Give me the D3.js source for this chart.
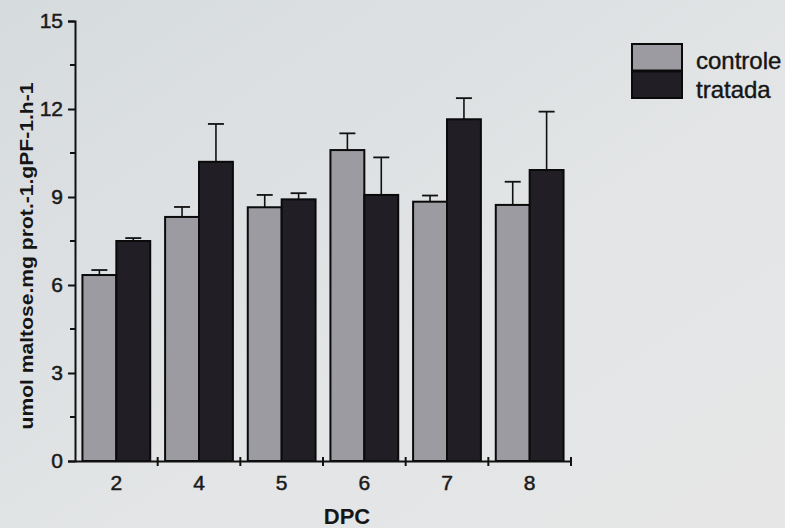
<!DOCTYPE html>
<html><head><meta charset="utf-8">
<script src="https://cdn.jsdelivr.net/npm/d3@7"></script>
<style>
html,body{margin:0;padding:0;background:#dfe2e4;}
svg{display:block;}
text{font-family:"Liberation Sans",Arial,sans-serif;}
</style></head>
<body>
<svg id="chart" width="785" height="528"></svg>
<script>
const categories = ["2","4","5","6","7","8"];
const seriesNames = ["controle","tratada"];
const controle = [6.34, 8.32, 8.65, 10.6, 8.84, 8.73];
const controleErr = [0.17, 0.34, 0.42, 0.57, 0.21, 0.79];
const tratada = [7.5, 10.2, 8.92, 9.07, 11.65, 9.92];
const tratadaErr = [0.1, 1.29, 0.21, 1.28, 0.72, 1.99];
const yTicks = [0,3,6,9,12,15];
const yMinor = [1.5,4.5,7.5,10.5,13.5];
const colors = {controle:"#9b9ba1", tratada:"#211f25"};

const svg = d3.select("#chart");
const defs = svg.append("defs");
const bg = defs.append("linearGradient").attr("id","bg").attr("x1","0").attr("y1","0").attr("x2","1").attr("y2","1");
bg.append("stop").attr("offset","0").attr("stop-color","#d6dbde");
bg.append("stop").attr("offset","0.6").attr("stop-color","#e3e5e6");
bg.append("stop").attr("offset","1").attr("stop-color","#e6e6e6");
svg.append("rect").attr("width",785).attr("height",528).attr("fill","url(#bg)");

const x0 = 75, x1 = 571, yTop = 21, yBot = 461;
const x = d3.scaleBand().domain(categories).range([x0,x1]).paddingInner(0.18).paddingOuter(0.09);
const xs = d3.scaleBand().domain(seriesNames).range([0,x.bandwidth()]);
const y = d3.scaleLinear().domain([0,15]).range([yBot,yTop]);

const data = categories.map((c,i)=>({cat:c, vals:[
  {s:"controle", v:controle[i], e:controleErr[i]},
  {s:"tratada", v:tratada[i], e:tratadaErr[i]}]}));

const g = svg.append("g");
const grp = g.selectAll("g.grp").data(data).join("g").attr("class","grp")
  .attr("transform",d=>`translate(${x(d.cat)},0)`);
grp.selectAll("g.err").data(d=>d.vals).join("g").attr("class","err").each(function(d){
  const cx = xs(d.s)+xs.bandwidth()/2;
  const sel = d3.select(this);
  sel.append("line").attr("x1",cx).attr("x2",cx).attr("y1",y(d.v)).attr("y2",y(d.v+d.e))
    .attr("stroke","#111").attr("stroke-width",1.6);
  sel.append("line").attr("x1",cx-8).attr("x2",cx+8).attr("y1",y(d.v+d.e)).attr("y2",y(d.v+d.e))
    .attr("stroke","#111").attr("stroke-width",1.8);
});
grp.selectAll("rect").data(d=>d.vals).join("rect")
  .attr("x",d=>xs(d.s)).attr("width",xs.bandwidth())
  .attr("y",d=>y(d.v)).attr("height",d=>y(0)-y(d.v))
  .attr("fill",d=>colors[d.s]).attr("stroke","#0a0a0a").attr("stroke-width",2);

// y axis
const yAxis = d3.axisLeft(y).tickValues(yTicks).tickSize(7).tickPadding(5).tickFormat(d3.format("d"));
const ya = svg.append("g").attr("transform",`translate(${x0},0)`).call(yAxis);
ya.select(".domain").attr("stroke","#111").attr("stroke-width",2);
ya.selectAll(".tick line").attr("stroke","#111").attr("stroke-width",2);
ya.selectAll(".tick text").attr("font-size",21).attr("fill","#1a1a1a")
  .attr("stroke","#1a1a1a").attr("stroke-width",0.5);
ya.selectAll("line.minor").data(yMinor).join("line").attr("class","minor")
  .attr("x1",-5).attr("x2",0).attr("y1",d=>y(d)).attr("y2",d=>y(d)).attr("stroke","#111").attr("stroke-width",2);

// x axis
const xAxis = d3.axisBottom(x).tickSize(0).tickPadding(14);
const xa = svg.append("g").attr("transform",`translate(0,${yBot})`).call(xAxis);
xa.select(".domain").attr("stroke","#111").attr("stroke-width",2);
xa.selectAll(".tick text").attr("font-size",21).attr("fill","#1a1a1a")
  .attr("stroke","#1a1a1a").attr("stroke-width",0.5);
const bounds = categories.map(c=>x(c)-x.step()*x.paddingInner()/2).slice(1).concat([x1]);
xa.selectAll("line.sep").data(bounds).join("line").attr("class","sep")
  .attr("x1",d=>d).attr("x2",d=>d).attr("y1",-4).attr("y2",5).attr("stroke","#111").attr("stroke-width",2);

// axis titles
svg.append("text").attr("x",(x0+x1)/2 + 24).attr("y",524).attr("text-anchor","middle")
  .attr("font-size",22).attr("font-weight","bold").attr("fill","#151515").text("DPC");
svg.append("text").attr("transform","translate(33,256) rotate(-90)").attr("text-anchor","middle")
  .attr("font-size",19).attr("font-weight","bold").attr("fill","#151515")
  .attr("textLength",347).attr("lengthAdjust","spacingAndGlyphs")
  .text("umol maltose.mg prot.-1.gPF-1.h-1");

// legend
const leg = svg.append("g").attr("transform","translate(632,44)");
seriesNames.forEach((s,i)=>{
  leg.append("rect").attr("x",0).attr("y",i*27.5).attr("width",50).attr("height",26.5)
    .attr("fill",colors[s]).attr("stroke","#0a0a0a").attr("stroke-width",2);
  leg.append("text").attr("x",64).attr("y",i*28.5+25).attr("font-size",24).attr("fill","#151515")
    .attr("stroke","#151515").attr("stroke-width",0.4).text(s);
});
</script>
</body></html>
